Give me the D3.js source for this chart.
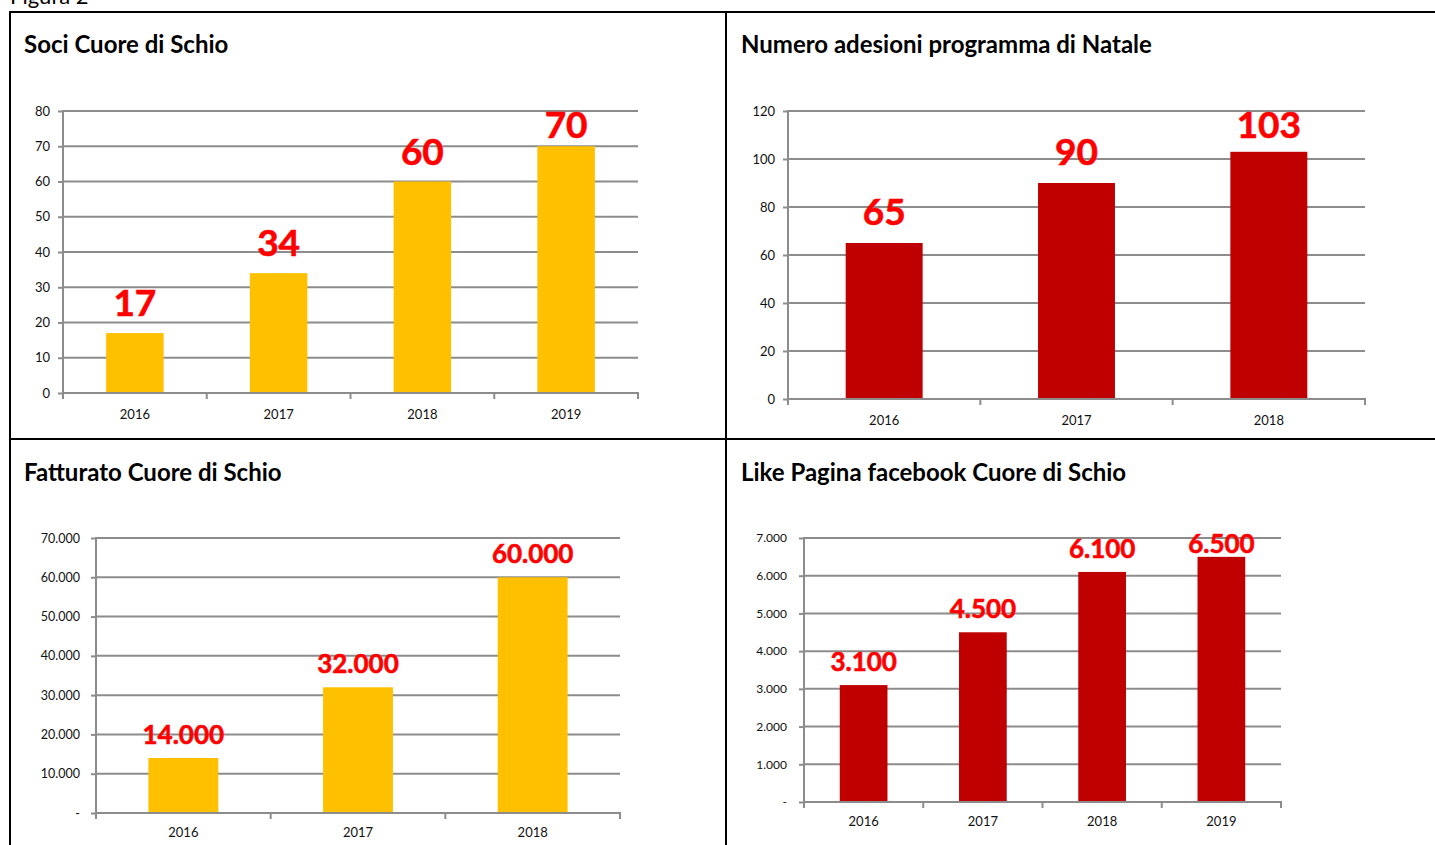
<!DOCTYPE html>
<html>
<head>
<meta charset="utf-8">
<script src="https://cdn.jsdelivr.net/npm/d3@7"></script>
<style>
  body { margin: 0; background: #fff; }
  svg { display: block; font-family: Lato, "Open Sans", sans-serif; }
</style>
</head>
<body>
<script>
// Soci Cuore di Schio
var sociYears = ["2016", "2017", "2018", "2019"];
var sociValues = [17, 34, 60, 70];
var sociTicks = [0, 10, 20, 30, 40, 50, 60, 70, 80];

// Numero adesioni programma di Natale
var natYears = ["2016", "2017", "2018"];
var natValues = [65, 90, 103];
var natTicks = [0, 20, 40, 60, 80, 100, 120];

// Fatturato Cuore di Schio
var fattYears = ["2016", "2017", "2018"];
var fattValues = [14000, 32000, 60000];
var fattTicks = [0, 10000, 20000, 30000, 40000, 50000, 60000, 70000];

// Like Pagina facebook Cuore di Schio
var likeYears = ["2016", "2017", "2018", "2019"];
var likeValues = [3100, 4500, 6100, 6500];
var likeTicks = [0, 1000, 2000, 3000, 4000, 5000, 6000, 7000];

var svg = d3.select("body").append("svg")
    .attr("width", 1435)
    .attr("height", 845);

var it = d3.formatLocale({ decimal: ",", thousands: ".", grouping: [3], currency: ["€", ""] });
var fmtThousands = function(v) { return v === 0 ? "-" : it.format(",.0f")(v); };
var fmtPlain = d3.format("d");

var gridColor = "#8c8c8c";

function drawPanel(p) {
    var g = svg.append("g");

    g.append("text")
        .attr("x", p.titleX)
        .attr("y", p.titleY)
        .attr("font-size", "24px")
        .attr("font-weight", "bold")
        .attr("fill", "#000")
        .text(p.title);

    var x = d3.scaleBand().domain(p.cats).range([p.x0, p.x1]).paddingInner(0.6).paddingOuter(0.3);
    var xb = d3.scaleBand().domain(p.cats).range([p.x0, p.x1]);
    var y = d3.scaleLinear().domain([0, d3.max(p.ticks)]).range([p.y1, p.y0]);

    // gridlines
    g.selectAll(".grid").data(p.ticks.filter(d => d > 0))
        .enter().append("line")
        .attr("x1", p.x0).attr("x2", p.x1)
        .attr("y1", d => y(d)).attr("y2", d => y(d))
        .attr("stroke", gridColor)
        .attr("stroke-width", 2);

    // bars
    g.selectAll(".bar").data(p.values)
        .enter().append("rect")
        .attr("x", (d, i) => x(p.cats[i]))
        .attr("width", x.bandwidth())
        .attr("y", d => y(d))
        .attr("height", d => p.y1 - y(d))
        .attr("fill", p.color);

    // y axis
    var yAxis = g.append("g")
        .attr("transform", "translate(" + p.x0 + ",0)")
        .call(d3.axisLeft(y).tickValues(p.ticks).tickFormat(p.fmt).tickSize(5).tickPadding(p.yPad));
    yAxis.select(".domain").remove();
    yAxis.selectAll(".tick line").attr("stroke", gridColor).attr("stroke-width", 2);
    yAxis.selectAll(".tick text")
        .attr("font-size", p.tickFont + "px")
        .attr("font-family", "Lato, sans-serif")
        .attr("fill", "#111");
    g.append("line")
        .attr("x1", p.x0).attr("x2", p.x0)
        .attr("y1", p.y0 - 1).attr("y2", p.y1 + 6)
        .attr("stroke", gridColor).attr("stroke-width", 2);

    // x axis
    var xAxis = g.append("g")
        .attr("transform", "translate(0," + p.y1 + ")")
        .call(d3.axisBottom(xb).tickSize(0).tickPadding(0));
    xAxis.select(".domain").remove();
    xAxis.selectAll(".tick text")
        .attr("y", p.xLabelDy)
        .attr("dy", 0)
        .attr("font-size", "13px")
        .attr("font-family", "Lato, sans-serif")
        .attr("fill", "#111");
    g.append("line")
        .attr("x1", p.x0 - 1).attr("x2", p.x1 + 1)
        .attr("y1", p.y1).attr("y2", p.y1)
        .attr("stroke", gridColor).attr("stroke-width", 2);
    g.selectAll(".xtick").data(p.cats)
        .enter().append("line")
        .attr("x1", d => xb(d) + xb.bandwidth()).attr("x2", d => xb(d) + xb.bandwidth())
        .attr("y1", p.y1).attr("y2", p.y1 + 6)
        .attr("stroke", gridColor).attr("stroke-width", 2);

    // data labels
    g.selectAll(".lbl").data(p.values)
        .enter().append("text")
        .attr("x", (d, i) => x(p.cats[i]) + x.bandwidth() / 2)
        .attr("y", d => Math.max(y(d) - p.labelOff, p.labelMin))
        .attr("text-anchor", "middle")
        .attr("font-size", p.labelFont + "px")
        .attr("font-weight", "bold")
        .attr("fill", "#ff0000")
        .attr("stroke", "#ff0000")
        .attr("stroke-width", 0.6)
        .text(d => p.fmt(d));
}

// page caption (cut at the top, as in the source page)
svg.append("text")
    .attr("x", 10).attr("y", 4)
    .attr("font-size", "22px")
    .text("Figura 2");

drawPanel({ title: "Soci Cuore di Schio", titleX: 24, titleY: 53, cats: sociYears, values: sociValues, ticks: sociTicks,
    x0: 63, x1: 638, y0: 111, y1: 393, color: "#ffc000", fmt: fmtPlain, tickFont: 13, yPad: 8,
    xLabelDy: 26, labelFont: 37, labelOff: 17, labelMin: 138 });
drawPanel({ title: "Numero adesioni programma di Natale", titleX: 741, titleY: 53, cats: natYears, values: natValues, ticks: natTicks,
    x0: 788, x1: 1365, y0: 111, y1: 399, color: "#c00000", fmt: fmtPlain, tickFont: 13, yPad: 8,
    xLabelDy: 26, labelFont: 37, labelOff: 18, labelMin: 138 });
drawPanel({ title: "Fatturato Cuore di Schio", titleX: 24, titleY: 481, cats: fattYears, values: fattValues, ticks: fattTicks,
    x0: 96, x1: 620, y0: 538, y1: 813, color: "#ffc000", fmt: fmtThousands, tickFont: 12.5, yPad: 11,
    xLabelDy: 24, labelFont: 26, labelOff: 14, labelMin: 0 });
drawPanel({ title: "Like Pagina facebook Cuore di Schio", titleX: 741, titleY: 481, cats: likeYears, values: likeValues, ticks: likeTicks,
    x0: 804, x1: 1281, y0: 538, y1: 802, color: "#c00000", fmt: fmtThousands, tickFont: 12, yPad: 12,
    xLabelDy: 24, labelFont: 26, labelOff: 14, labelMin: 553 });

// panel frames
var frame = svg.append("g").attr("stroke", "#000").attr("stroke-width", 2).attr("fill", "none");
frame.append("path").attr("d", "M10,846 V12 H1436");
frame.append("line").attr("x1", 726).attr("x2", 726).attr("y1", 12).attr("y2", 846);
frame.append("line").attr("x1", 10).attr("x2", 1436).attr("y1", 439).attr("y2", 439);
</script>
</body>
</html>
